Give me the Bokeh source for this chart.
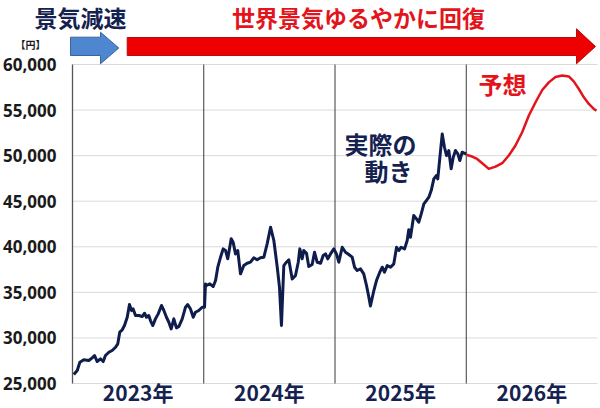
from bokeh.plotting import figure
from bokeh.models import Range1d
from bokeh.embed import file_html
from bokeh.resources import INLINE
from bokeh.core.properties import value

# ---------------- data ----------------
actual_x = [2023.010, 2023.036, 2023.056, 2023.086, 2023.124, 2023.150, 2023.168, 2023.188, 2023.213, 2023.234,
            2023.251, 2023.277, 2023.302, 2023.328, 2023.345, 2023.360, 2023.379, 2023.396, 2023.417, 2023.434,
            2023.450, 2023.462, 2023.480, 2023.505, 2023.531, 2023.549, 2023.564, 2023.581, 2023.594, 2023.612,
            2023.632, 2023.653, 2023.678, 2023.696, 2023.716, 2023.734, 2023.752, 2023.772, 2023.792, 2023.810,
            2023.836, 2023.861, 2023.878, 2023.899, 2023.920, 2023.937, 2023.962, 2023.988, 2024.006, 2024.013,
            2024.021, 2024.046, 2024.072, 2024.090, 2024.107, 2024.128, 2024.148, 2024.166, 2024.183, 2024.209,
            2024.224, 2024.242, 2024.259, 2024.280, 2024.305, 2024.331, 2024.356, 2024.381, 2024.407, 2024.432,
            2024.458, 2024.483, 2024.509, 2024.534, 2024.560, 2024.577, 2024.592, 2024.610, 2024.630, 2024.648,
            2024.674, 2024.699, 2024.720, 2024.732, 2024.750, 2024.762, 2024.783, 2024.800, 2024.826, 2024.844,
            2024.864, 2024.890, 2024.910, 2024.928, 2024.945, 2024.966, 2024.991, 2025.011, 2025.029, 2025.055,
            2025.080, 2025.105, 2025.131, 2025.149, 2025.169, 2025.194, 2025.219, 2025.240, 2025.258, 2025.270,
            2025.296, 2025.316, 2025.341, 2025.360, 2025.377, 2025.398, 2025.423, 2025.448, 2025.469, 2025.486,
            2025.504, 2025.530, 2025.550, 2025.562, 2025.575, 2025.600, 2025.621, 2025.638, 2025.657, 2025.677,
            2025.697, 2025.715, 2025.733, 2025.753, 2025.773, 2025.783, 2025.798, 2025.817, 2025.834, 2025.850,
            2025.867, 2025.885, 2025.901, 2025.918, 2025.936, 2025.951, 2025.969, 2025.987, 2026.000]
actual_y = [25990, 26430, 27340, 27600, 27520, 27810, 28070, 27410, 27700, 27410,
            28070, 28430, 28620, 28980, 29350, 30630, 30890, 31360, 32270, 33660,
            33000, 33180, 32460, 32460, 32350, 32710, 32270, 32460, 31910, 31360,
            32090, 32640, 33560, 33010, 32270, 31720, 30990, 32090, 31100, 31250,
            32090, 33370, 33660, 33180, 32270, 32820, 33010, 33370, 33370, 35930,
            35750, 35930, 35640, 36300, 37760, 38860, 39770, 39590, 38680, 40880,
            40500, 39220, 39590, 37030, 37940, 38200, 38310, 38790, 38570, 38790,
            38860, 40320, 42150, 40690, 37760, 35570, 31360, 37940, 38310, 38570,
            36470, 36850, 38310, 39770, 38680, 39590, 39280, 37830, 38050, 39400,
            38310, 38200, 39040, 39220, 38680, 39220, 39770, 39220, 38310, 39950,
            39400, 39150, 38860, 37760, 37400, 37580, 37030, 35750, 34460, 33500,
            35200, 36300, 37210, 37760, 37210, 37940, 37760, 38130, 39950, 39590,
            39950, 39770, 40690, 41860, 41050, 43430, 43060, 42690, 43610, 44710,
            45080, 45440, 46170, 47450, 47820, 47450, 49640, 52380, 50920, 50000,
            50560, 48550, 49830, 50560, 50190, 49460, 50380, 50260, 50200]

forecast_x = [2026.000, 2026.045, 2026.083, 2026.122, 2026.172, 2026.223, 2026.274, 2026.324, 2026.375, 2026.426,
              2026.477, 2026.528, 2026.579, 2026.629, 2026.680, 2026.731, 2026.781, 2026.819, 2026.858, 2026.896,
              2026.934, 2026.972, 2026.992]
forecast_y = [50100, 49900, 49640, 49170, 48550, 48800, 49170, 50010, 51110, 52570,
              54400, 55860, 57200, 58040, 58620, 58800, 58690, 58150, 57310, 56400,
              55670, 55120, 54940]

years = [2023, 2024, 2025, 2026]
year_labels = ["2023年", "2024年", "2025年", "2026年"]
y_ticks = [25000, 30000, 35000, 40000, 45000, 50000, 55000, 60000]
y_tick_labels = ["25,000", "30,000", "35,000", "40,000", "45,000", "50,000", "55,000", "60,000"]

# ---------------- layout (canvas = data frame) ----------------
W, H = 600, 408
X0, X1 = years[0], years[-1] + 1          # data x-span of the chart body
Y0, Y1 = y_ticks[0], y_ticks[-1]
LEFT, RIGHT = 72, 597                      # canvas px of X0, X1
TOP, BOTTOM = 64, 383                      # canvas px of Y1, Y0
XPP = (X1 - X0) / (RIGHT - LEFT)
YPP = (Y1 - Y0) / (BOTTOM - TOP)


def cx(px):  # canvas px -> data x
    return X0 + (px - LEFT) * XPP


def cy(py):  # canvas py -> data y
    return Y0 + (BOTTOM - py) * YPP


NAVY = "#15224f"
RED = "#e3141b"
CJK = "Noto Sans CJK JP"

p = figure(width=W, height=H, output_backend="svg", toolbar_location=None,
           x_range=Range1d(cx(0), cx(W)), y_range=Range1d(cy(H), cy(0)),
           min_border=0, min_border_left=0, min_border_right=0, min_border_top=0, min_border_bottom=0)
p.outline_line_color = None
p.xaxis.visible = False
p.yaxis.visible = False
p.xgrid.visible = False
p.ygrid.visible = False
p.background_fill_color = "white"
p.border_fill_color = "white"

# horizontal grid lines
p.segment(x0=[X0] * len(y_ticks), x1=[X1] * len(y_ticks), y0=y_ticks, y1=y_ticks,
          line_color="#dadada", line_width=1)
# year dividers and left axis line
p.segment(x0=years[1:], x1=years[1:], y0=[Y0] * 3, y1=[Y1] * 3, line_color="#3a3a3a", line_width=1)
p.segment(x0=[X0], x1=[X0], y0=[Y0], y1=[Y1], line_color="#555555", line_width=1.3)

# y tick labels
p.text(x=[cx(LEFT - 16)] * len(y_ticks), y=y_ticks, text=y_tick_labels,
       text_align="right", text_baseline="middle", text_font=value("Noto Sans"),
       text_font_style="bold", text_font_size=value("17px"), text_color="#1a1a1a")
p.text(x=[cx(30)], y=[cy(44)], text=["【円】"], text_align="center", text_baseline="middle",
       text_font=value(CJK), text_font_style="bold", text_font_size=value("10px"), text_color="#1a1a1a")

# year labels
p.text(x=[y + 0.5 for y in years], y=[cy(391)] * len(years), text=year_labels,
       text_align="center", text_baseline="middle", text_font=value(CJK),
       text_font_style="bold", text_font_size=value("21px"), text_color=NAVY)

# series
p.line(actual_x, actual_y, line_color="#0f1d4d", line_width=3, line_join="round")
p.line(forecast_x, forecast_y, line_color=RED, line_width=2.5, line_join="round")

# arrows at the top
p.patch(x=[cx(70), cx(100), cx(100), cx(118.3), cx(100), cx(100), cx(70)],
        y=[cy(36.7), cy(36.7), cy(31.7), cy(47.5), cy(63.3), cy(55), cy(55)],
        fill_color="#4f86d0", line_color="#3a64a0", line_width=1)
p.patch(x=[cx(126.7), cx(576), cx(576), cx(595), cx(576), cx(576), cx(126.7)],
        y=[cy(37), cy(37), cy(28.3), cy(46), cy(63.3), cy(55), cy(55)],
        fill_color="#ee0000", line_color="#b01010", line_width=1)

# headline texts
p.text(x=[cx(80)], y=[cy(16)], text=["景気減速"], text_align="center", text_baseline="middle",
       text_font=value(CJK), text_font_style="bold", text_font_size=value("23px"), text_color=NAVY)
p.text(x=[cx(358)], y=[cy(16)], text=["世界景気ゆるやかに回復"], text_align="center", text_baseline="middle",
       text_font=value(CJK), text_font_style="bold", text_font_size=value("23px"), text_color=RED)

# in-chart annotations
p.text(x=[cx(380), cx(388)], y=[cy(143), cy(170)], text=["実際の", "動き"], text_align="center",
       text_baseline="middle", text_font=value(CJK), text_font_style="bold",
       text_font_size=value("24px"), text_color=NAVY)
p.text(x=[cx(502)], y=[cy(83)], text=["予想"], text_align="center", text_baseline="middle",
       text_font=value(CJK), text_font_style="bold", text_font_size=value("24px"), text_color=RED)

open("out.html", "w").write(file_html(p, INLINE))
